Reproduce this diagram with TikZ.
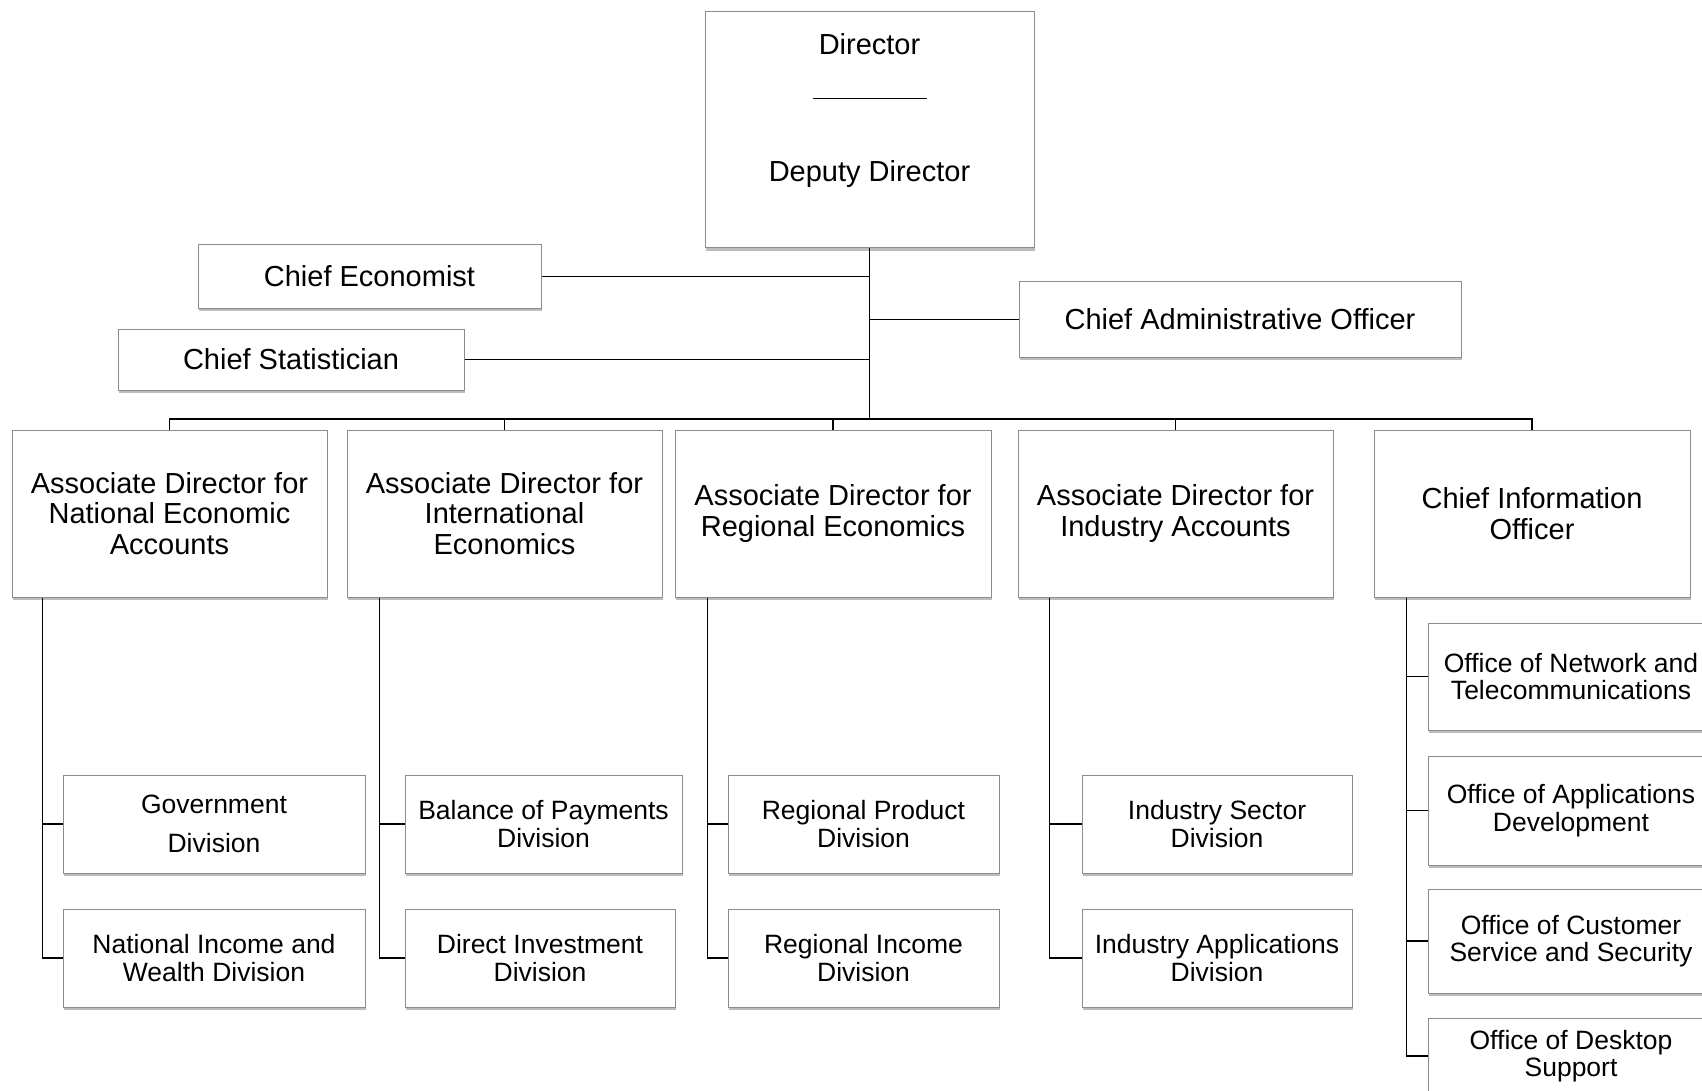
\documentclass[tikz,border=0pt]{standalone}
\usepackage{fontspec}
\setmainfont{Liberation Sans}
\usetikzlibrary{shadows}
\tikzset{
  box/.style={draw=black!45, line width=1pt, fill=white, rectangle, inner sep=0pt, align=center,
    drop shadow={shadow xshift=1pt, shadow yshift=-3pt, fill=black!65, opacity=0.4}},
  bigtxt/.style={font=\fontsize{29}{30.4}\selectfont},
  smalltxt/.style={font=\fontsize{26.5}{27.5}\selectfont},
  conn/.style={draw=black, line width=1.9pt},
  plain/.style={inner sep=0pt, align=center}
}
\begin{document}
\begin{tikzpicture}[x=1pt,y=-1pt]
\useasboundingbox (0,0) rectangle (1702,1091);
\clip (0,0) rectangle (1702,1091);
\fill[white] (0,0) rectangle (1702,1091);

% top level
\node[box, minimum width=329, minimum height=236] (dir) at (869.5,130) {};
\node[plain, bigtxt] (dirt) at (869.5,44.5) {Director};
\node[plain] (dirrule) at (869.5,99) {\rule{114pt}{1pt}};
\node[plain, bigtxt] (dept) at (869.5,174.5) {Deputy Director};

\node[box, bigtxt, minimum width=343, minimum height=63] (ce) at (369.5,276.5) {Chief Economist};
\node[box, bigtxt, minimum width=346, minimum height=61] (cs) at (291,359.5) {Chief Statistician};
\node[box, bigtxt, minimum width=442, minimum height=75] (cao) at (1240,319.5) {Chief Administrative Officer};

% level 2
\node[box, bigtxt, minimum width=315, minimum height=167] (a1) at (169.5,513.5) {Associate Director for\\National Economic\\Accounts};
\node[box, bigtxt, minimum width=315, minimum height=167] (a2) at (504.5,513.5) {Associate Director for\\International\\Economics};
\node[box, bigtxt, minimum width=316, minimum height=167] (a3) at (833,513.5) {Associate Director for\\Regional Economics};
\node[box, bigtxt, minimum width=315, minimum height=167] (a4) at (1175.5,513.5) {Associate Director for\\Industry Accounts};
\node[box, bigtxt, minimum width=316, minimum height=167] (a5) at (1532,513.5) {Chief Information\\Officer};

% level 3
\node[box, smalltxt, minimum width=302, minimum height=98] (g1) at (214,824) {Government\\[11pt]Division};
\node[box, smalltxt, minimum width=302, minimum height=98] (g2) at (214,958) {National Income and\\Wealth Division};
\node[box, smalltxt, minimum width=277, minimum height=98] (b1) at (543.5,824) {Balance of Payments\\Division};
\node[box, smalltxt, minimum width=270, minimum height=98] (b2) at (540,958) {Direct Investment\\Division};
\node[box, smalltxt, minimum width=271, minimum height=98] (r1) at (863.5,824) {Regional Product\\Division};
\node[box, smalltxt, minimum width=271, minimum height=98] (r2) at (863.5,958) {Regional Income\\Division};
\node[box, smalltxt, minimum width=270, minimum height=98] (i1) at (1217,824) {Industry Sector\\Division};
\node[box, smalltxt, minimum width=270, minimum height=98] (i2) at (1217,958) {Industry Applications\\Division};

\node[box, smalltxt, minimum width=286, minimum height=107] (o1) at (1571,676.5) {Office of Network and\\Telecommunications};
\node[box, smalltxt, minimum width=286, minimum height=109] (o2) at (1571,810.5) {Office of Applications\\Development};
\node[box, smalltxt, minimum width=286, minimum height=104] (o3) at (1571,941) {Office of Customer\\Service and Security};
\node[box, smalltxt, minimum width=286, minimum height=76] (o4) at (1571,1056) {Office of Desktop\\Support};

% connectors
\coordinate (bus) at (869.5,419);
\draw[conn] (dir.south) -- (bus);
\draw[conn] (ce.east) -- (ce.east -| dir.south);
\draw[conn] (cs.east) -- (cs.east -| dir.south);
\draw[conn] (cao.west) -- (cao.west -| dir.south);
\draw[conn] (a1.north) |- (bus) -| (a5.north);
\draw[conn] (a2.north) -- (a2.north |- bus);
\draw[conn] (a3.north) -- (a3.north |- bus);
\draw[conn] (a4.north) -- (a4.north |- bus);

\draw[conn] (a1.south west) ++(31,0) |- (g1.west);
\draw[conn] (a1.south west) ++(31,0) |- (g2.west);
\draw[conn] (a2.south west) ++(33,0) |- (b1.west);
\draw[conn] (a2.south west) ++(33,0) |- (b2.west);
\draw[conn] (a3.south west) ++(33,0) |- (r1.west);
\draw[conn] (a3.south west) ++(33,0) |- (r2.west);
\draw[conn] (a4.south west) ++(32,0) |- (i1.west);
\draw[conn] (a4.south west) ++(32,0) |- (i2.west);
\draw[conn] (a5.south west) ++(33,0) |- (o1.west);
\draw[conn] (a5.south west) ++(33,0) |- (o2.west);
\draw[conn] (a5.south west) ++(33,0) |- (o3.west);
\draw[conn] (a5.south west) ++(33,0) |- (o4.west);
\end{tikzpicture}
\end{document}
